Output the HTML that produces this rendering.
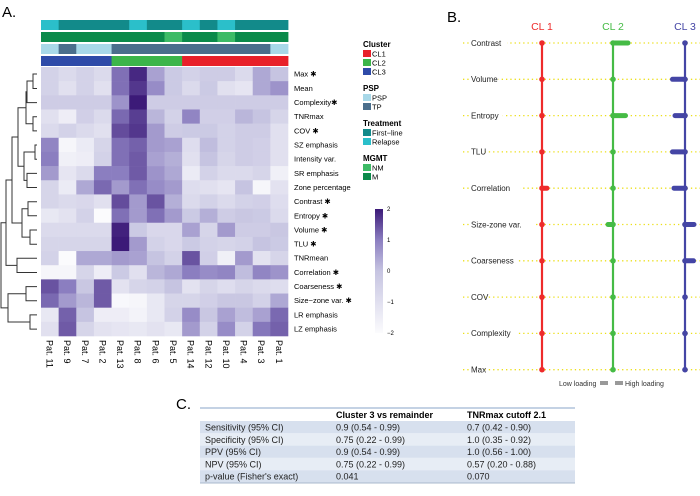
<!DOCTYPE html>
<html><head><meta charset="utf-8"><style>
body{margin:0;background:#fff;width:700px;height:496px;overflow:hidden;font-family:"Liberation Sans",sans-serif}
svg{position:absolute;left:0;top:0}
</style></head><body>
<svg id="fig" width="700" height="496" font-family="Liberation Sans, sans-serif">
<text x="2" y="17" font-size="15">A.</text>
<text x="447" y="22" font-size="15">B.</text>
<text x="176" y="409" font-size="15">C.</text>
<g id="heat"></g>
<g id="annot"></g>
<g id="rowlabels"></g>
<g id="collabels"></g>
<path fill="none" stroke="#333" stroke-width="1"
d="M37,74H33V88.5H37 M37,102.6H27V81H33 M37,116.7H33V130.9H37 M33,123.8H26V91.8H27 M37,145H35V159.2H37 M37,173.4H27V187.5H37 M35,152H24V180.4H27 M26,107.8H18V166.2H24 M37,201.7H28V215.8H37 M37,230H30V244.2H37 M28,208.8H22V237.1H30 M22,223H12V137H18 M37,258.3H17V272.5H37 M17,265.4H6V180H12 M37,286.6H26V300.8H37 M37,314.9H30V329.1H37 M26,293.7H8V322H30 M6,222.7H1V307.9H8"/>
<g font-size="7.5">
<text x="363" y="47" font-weight="bold" font-size="8">Cluster</text>
<rect x="363" y="50" width="8" height="7" fill="#e8202a"/><text x="372" y="56.5">CL1</text>
<rect x="363" y="59" width="8" height="7" fill="#3cb54a"/><text x="372" y="65.5">CL2</text>
<rect x="363" y="68" width="8" height="7" fill="#2e4aa8"/><text x="372" y="74.5">CL3</text>
<text x="363" y="91" font-weight="bold" font-size="8">PSP</text>
<rect x="363" y="94" width="8" height="7" fill="#a8d8e8"/><text x="372" y="100.5">PSP</text>
<rect x="363" y="103" width="8" height="7" fill="#4a6e8c"/><text x="372" y="109.5">TP</text>
<text x="363" y="126" font-weight="bold" font-size="8">Treatment</text>
<rect x="363" y="129" width="8" height="7" fill="#128a8a"/><text x="372" y="135.5">First−line</text>
<rect x="363" y="138" width="8" height="7" fill="#2bbfca"/><text x="372" y="144.5">Relapse</text>
<text x="363" y="161" font-weight="bold" font-size="8">MGMT</text>
<rect x="363" y="164" width="8" height="7" fill="#3dbb66"/><text x="372" y="170.5">NM</text>
<rect x="363" y="173" width="8" height="7" fill="#0b8a4a"/><text x="372" y="179.5">M</text>
</g>
<defs><linearGradient id="cb" x1="0" y1="1" x2="0" y2="0">
<stop offset="0" stop-color="#fbfbfd"/><stop offset="0.5" stop-color="#c6c4e1"/><stop offset="0.75" stop-color="#8b7ec0"/><stop offset="1" stop-color="#3c1a78"/></linearGradient></defs>
<rect x="375" y="209" width="8" height="124" fill="url(#cb)"/>
<g id="cbticks" font-size="6"></g>
<g id="panelb"></g>
<g id="table"></g>
</svg>
<script>
const NS="http://www.w3.org/2000/svg";
const rows=["Max ✱","Mean","Complexity✱","TNRmax","COV ✱","SZ emphasis","Intensity var.","SR emphasis","Zone percentage","Contrast ✱","Entropy ✱","Volume ✱","TLU ✱","TNRmean","Correlation ✱","Coarseness ✱","Size−zone var. ✱","LR emphasis","LZ emphasis"];
const cols=["Pat. 11","Pat. 9","Pat. 7","Pat. 2","Pat. 13","Pat. 8","Pat. 6","Pat. 5","Pat. 14","Pat. 12","Pat. 10","Pat. 4","Pat. 3","Pat. 1"];
const values=[
[-0.5,-0.8,-0.5,-0.8,1.2,2.2,0.5,-0.2,-0.5,-0.3,-0.3,-0.8,0.4,0],
[-0.5,-1,-0.5,-1,1.2,2,0.8,-0.2,-0.8,-0.2,-1,-1.2,0.4,0.7],
[-0.3,-0.3,-0.3,-0.3,0.7,2.4,-0.3,-0.3,-0.3,-0.3,-0.3,-0.3,-0.3,-0.3],
[-1,-1.5,-0.4,-0.8,1.3,1.9,0.2,-0.5,0.9,-0.4,-0.4,0.2,0,-0.6],
[-0.8,-0.5,-0.8,-1,1.7,2,0.6,-0.3,-0.2,-0.2,-0.5,-0.3,-0.3,-1],
[0.9,-1.8,-1.4,-0.6,1.2,1.4,0.6,0.5,-0.9,0.1,-0.5,-0.3,-0.4,-1],
[1,-1.6,-1.5,-0.5,1.2,1.5,0.5,0.3,-1,0,-0.6,-0.3,-0.4,-1],
[0.6,-1.2,-0.8,1,1,1.5,0.7,0.4,-1.4,-0.5,-0.8,-0.8,-0.6,-1.6],
[-0.6,-1.4,0.4,1.3,0.6,1.2,0.8,0.6,-0.9,-1,-1.2,0,-1.8,-1.1],
[-0.6,-0.8,-0.7,-1,1.7,0.6,1.6,0.3,-0.8,-0.5,-0.8,-0.5,-0.4,-0.9],
[-1.3,-1.1,-0.5,-2,1.2,0.6,1.2,0.6,-0.2,0.3,-0.3,-0.1,-0.2,-0.8],
[-0.8,-0.8,-0.8,-0.8,2.3,-0.2,-0.7,-0.7,0.5,-0.6,0.6,-0.3,-0.3,-0.1],
[-0.6,-0.6,-0.6,-0.6,2.4,0.6,-0.5,-0.7,-0.2,-0.5,-0.6,-0.5,0,-0.2],
[-0.5,-2,0.4,0.4,0.6,0.5,0,-0.5,1.6,-0.4,-1.6,0.6,-1.1,-0.6],
[-1.8,-1.8,-0.6,-1.5,-0.2,-1,0.2,0.4,1,0.8,0.9,0.1,0.9,0.7],
[1.6,1,-0.1,1.5,-1.1,-0.6,-0.5,0,-1.1,-0.6,-0.9,-0.6,-0.8,-0.9],
[1.3,0.6,0.2,1.5,-1.9,-1.8,-1.3,-0.6,-0.6,-0.4,-0.1,-0.1,-0.5,0.4],
[-1.3,1.4,0,-1.5,-1.5,-1.7,-1.3,-0.5,0.8,-0.1,0.5,0.1,0.5,1.3],
[-1,1.5,-0.6,-1.1,-1.2,-1.3,-1.1,-1.3,0.6,-0.5,0.8,-0.5,1.1,1.4]];
const treatment=["R","F","F","F","F","R","F","F","R","F","R","F","F","F"];
const mgmt=["M","M","M","M","M","M","M","NM","M","M","NM","M","M","M"];
const psp=["PSP","TP","PSP","PSP","TP","TP","TP","TP","TP","TP","TP","TP","TP","PSP"];
const cluster=["CL3","CL3","CL3","CL3","CL2","CL2","CL2","CL2","CL1","CL1","CL1","CL1","CL1","CL1"];
const cbTicks=[2,1,0,-1,-2];
const X0=41,CW=(288-41)/14,Y0=67,RH=(336-67)/19;
const cx=i=>X0+i*CW, ry=j=>Y0+j*RH, cbY=v=>333-(v+2)/4*124;
function lerp(a,b,t){return a.map((x,i)=>Math.round(x+(b[i]-x)*t));}
const stops=[[-2,[251,251,253]],[0,[198,196,225]],[1,[139,126,192]],[2.4,[60,26,120]]];
function col(v){v=Math.max(-2,Math.min(2.4,v));for(let k=0;k<stops.length-1;k++){if(v<=stops[k+1][0]){const t=(v-stops[k][0])/(stops[k+1][0]-stops[k][0]);const c=lerp(stops[k][1],stops[k+1][1],t);return`rgb(${c})`;}}return"rgb(60,26,120)";}
function mk(p,tag,a){const e=document.createElementNS(NS,tag);for(const k in a)e.setAttribute(k,a[k]);p.appendChild(e);return e;}
const heat=document.getElementById('heat');
values.forEach((r,j)=>r.forEach((v,i)=>{const e=mk(heat,'rect',{x:cx(i),y:ry(j),width:CW+0.3,height:RH+0.3,fill:col(v)});

}));
const rl=document.getElementById('rowlabels');
rows.forEach((r,j)=>{const t=mk(rl,'text',{x:294,y:ry(j)+RH/2+2.6,'font-size':7.5});t.textContent=r;

});
const cl=document.getElementById('collabels');
cols.forEach((c,i)=>{const x=cx(i)+CW/2-3.3;const t=mk(cl,'text',{x:0,y:0,'font-size':9,transform:`translate(${x},340) rotate(90)`});t.textContent=c;

});
const an=document.getElementById('annot');
const cmap={R:"#2bbfca",F:"#128a8a",M:"#0b8a4a",NM:"#3dbb66",PSP:"#a8d8e8",TP:"#4a6e8c",CL1:"#e8202a",CL2:"#3cb54a",CL3:"#2e4aa8"};
[[treatment,20],[mgmt,32],[psp,44],[cluster,56]].forEach(([arr,y])=>{arr.forEach((v,i)=>{const e=mk(an,'rect',{x:cx(i),y:y,width:CW+0.4,height:10,fill:cmap[v]});

});});
const cbt=document.getElementById('cbticks');
cbTicks.forEach(v=>{const t=mk(cbt,'text',{x:387,y:cbY(v)+2});t.textContent=v===-1?"−1":v===-2?"−2":v;});
const bFeatures=["Contrast","Volume","Entropy","TLU","Correlation","Size-zone var.","Coarseness","COV","Complexity","Max"];
const clusterNames=["CL 1","CL 2","CL 3"];
const loadCL1=[0,0,0,0,1,0,0,0,0,0];
const loadCL2=[3,0,2.5,0,0,-1,0,0,0,0];
const loadCL3=[0,-2.5,-2,-2.5,-2.2,1.8,1.7,0,0,0];
const loads=[loadCL1,loadCL2,loadCL3];
const bcol=["#ee2b2b","#45bb45","#4445a5"];
const bx=[542,613,685], by=j=>43+j*36.3;
const pb=document.getElementById('panelb');
bFeatures.forEach((f,j)=>{const y=by(j);
mk(pb,'line',{x1:463,y1:y,x2:700,y2:y,stroke:"#ecdf1a",'stroke-width':1.3,'stroke-dasharray':"1.3 3"});
const w=f.length*4.4;mk(pb,'rect',{x:470,y:y-4,width:w+2,height:8,fill:"#fff"});
const t=mk(pb,'text',{x:471,y:y+2.8,'font-size':8,fill:"#222"});t.textContent=f;

});
clusterNames.forEach((c,k)=>{
const t=mk(pb,'text',{x:bx[k],y:30,'font-size':10.5,fill:bcol[k],'text-anchor':'middle'});t.textContent=c;


mk(pb,'line',{x1:bx[k],y1:by(0),x2:bx[k],y2:by(9),stroke:bcol[k],'stroke-width':2.2});
loads[k].forEach((v,j)=>{const y=by(j);
if(v!==0){const x1=Math.min(bx[k],bx[k]+v*5),x2=Math.max(bx[k],bx[k]+v*5);
const b=mk(pb,'line',{x1:x1,y1:y,x2:x2,y2:y,stroke:bcol[k],'stroke-width':5,'stroke-linecap':'round'});

}
const d=mk(pb,'circle',{cx:bx[k],cy:y,r:2.8,fill:bcol[k]});

});});
const lg=mk(pb,'g',{});
let t1=mk(lg,'text',{x:559,y:386,'font-size':7,fill:"#333"});t1.textContent="Low loading";
mk(lg,'rect',{x:600,y:381,width:8,height:4,fill:"#999"});
mk(lg,'rect',{x:615,y:381,width:8,height:4,fill:"#999"});
let t2=mk(lg,'text',{x:625,y:386,'font-size':7,fill:"#333"});t2.textContent="High loading";
const tHead=["","Cluster  3 vs remainder","TNRmax cutoff  2.1"];
const tRows=[["Sensitivity (95% CI)","0.9 (0.54 - 0.99)","0.7 (0.42 - 0.90)"],["Specificity (95% CI)","0.75 (0.22 - 0.99)","1.0 (0.35 - 0.92)"],["PPV (95% CI)","0.9 (0.54 - 0.99)","1.0 (0.56 - 1.00)"],["NPV (95% CI)","0.75 (0.22 - 0.99)","0.57 (0.20 - 0.88)"],["p-value (Fisher's exact)","0.041","0.070"]];
const tb=document.getElementById('table');const tx=[205,336,467];
mk(tb,'line',{x1:200,y1:408,x2:575,y2:408,stroke:"#8aa4c8",'stroke-width':1});
tHead.forEach((h,i)=>{const t=mk(tb,'text',{x:tx[i],y:418,'font-size':9,'font-weight':'bold'});t.textContent=h;});
tRows.forEach((r,j)=>{const y=421+j*12.3;
mk(tb,'rect',{x:200,y:y,width:375,height:12.3,fill:j%2==0?"#d7e0ee":"#e7edf5"});
r.forEach((c,i)=>{const t=mk(tb,'text',{x:tx[i],y:y+9.5,'font-size':9,fill:"#222"});t.textContent=c;

});});
mk(tb,'line',{x1:200,y1:483,x2:575,y2:483,stroke:"#aab8cc",'stroke-width':1});
</script>
</body></html>
